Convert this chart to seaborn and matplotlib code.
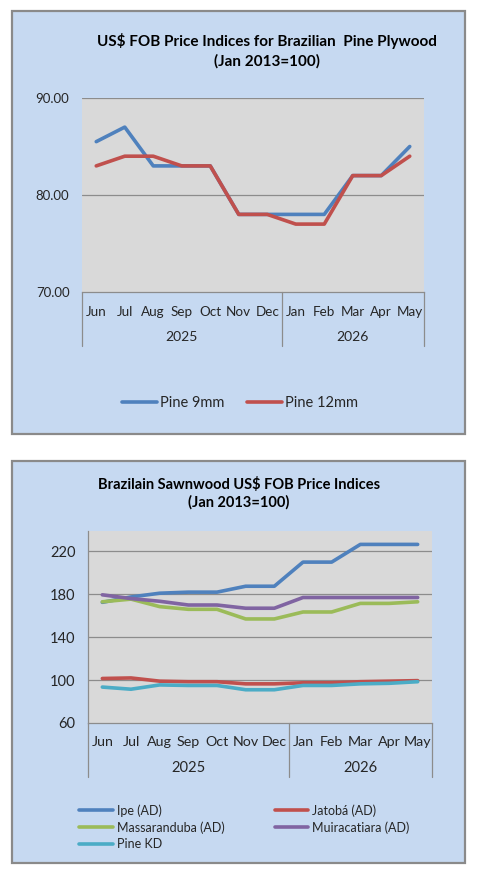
import pandas as pd
import matplotlib.pyplot as plt
import seaborn as sns
from matplotlib.patches import Rectangle

sns.set_style('white')
plt.rcParams['font.family'] = ['Lato', 'DejaVu Sans']

W, H = 481, 880

months = ['Jun', 'Jul', 'Aug', 'Sep', 'Oct', 'Nov', 'Dec',
          'Jan', 'Feb', 'Mar', 'Apr', 'May']
years = ['2025', '2026']
year_spans = [(0, 6), (7, 11)]

# plywood indices
pine_9mm = [85.5, 87, 83, 83, 83, 78, 78, 78, 78, 82, 82, 85]
pine_12mm = [83, 84, 84, 83, 83, 78, 78, 77, 77, 82, 82, 84]

# sawnwood indices
ipe = [172.5, 177.5, 181, 182, 182, 187.5, 187.5, 210, 210, 226.5, 226.5, 226.5]
jatoba = [101.5, 102, 99, 98.5, 98.5, 96.5, 96.5, 97.5, 97.5, 98.5, 99, 99.5]
massaranduba = [173, 175.5, 168.5, 166, 166, 157, 157, 163.5, 163.5, 171.5, 171.5, 173]
muiracatiara = [179.5, 176, 173.5, 170, 170, 167, 167, 177, 177, 177, 177, 177]
pine_kd = [93.5, 91.5, 95.5, 95, 95, 91, 91, 95, 95, 96.5, 97, 98.5]

BOX_FILL = '#C6D9F1'
PLOT_FILL = '#D9D9D9'
GRID = '#8C8C8C'
TXT = '#262626'


def px_rect(x0, y0, x1, y1):
    # pixel box (from top-left) -> figure fraction rect
    return [x0 / W, 1 - y1 / H, (x1 - x0) / W, (y1 - y0) / H]


def long_form(series):
    rows = []
    for name, vals in series.items():
        for i, v in enumerate(vals):
            rows.append({'pos': i, 'value': v, 'series': name})
    return pd.DataFrame(rows)


def style_axis(ax, ylim, yticks, fmt, show_left, tick_fs, month_fs, month_pad, drop):
    ax.set_facecolor(PLOT_FILL)
    ax.set_xlim(-0.5, 11.5)
    ax.set_ylim(*ylim)
    ax.set_yticks(yticks)
    ax.set_yticklabels([fmt.format(t) for t in yticks])
    ax.set_xticks(range(len(months)))
    ax.set_xticklabels(months)
    ax.tick_params(axis='x', length=0, pad=month_pad, labelsize=month_fs, colors=TXT)
    ax.tick_params(axis='y', length=0, pad=9, labelsize=tick_fs, colors=TXT)
    ax.set_xlabel('')
    ax.set_ylabel('')
    ax.grid(False)
    for t in yticks[1:]:
        ax.axhline(t, color=GRID, lw=0.9, zorder=1)
    for s in ['top', 'right']:
        ax.spines[s].set_visible(False)
    ax.spines['left'].set_visible(show_left)
    ax.spines['left'].set_color(GRID)
    ax.spines['bottom'].set_color(GRID)
    ax.spines['left'].set_linewidth(0.9)
    ax.spines['bottom'].set_linewidth(0.9)
    # multi-level category axis
    for xs in [-0.5, 6.5, 11.5]:
        ax.plot([xs, xs], [0, -drop], transform=ax.get_xaxis_transform(),
                color=GRID, lw=0.9, clip_on=False)
    for yr, (a, b) in zip(years, year_spans):
        ax.text((a + b) / 2, -drop * 0.83, yr, transform=ax.get_xaxis_transform(),
                ha='center', va='center', fontsize=month_fs + 0.3, color=TXT)


fig = plt.figure(figsize=(W / 100, H / 100), dpi=100)

# chart boxes
for box in [(12, 11, 465, 434), (12, 461, 465, 863)]:
    r = px_rect(*box)
    fig.patches.append(Rectangle((r[0], r[1]), r[2], r[3], transform=fig.transFigure,
                                 facecolor=BOX_FILL, edgecolor='#8A8A8A', lw=1.6, zorder=-5))

# ---- top chart: plywood ----
ax1 = fig.add_axes(px_rect(82, 98, 424, 292))
ply = long_form({'Pine 9mm': pine_9mm, 'Pine 12mm': pine_12mm})
sns.lineplot(data=ply, x='pos', y='value', hue='series', sort=False,
             palette=['#4F81BD', '#C0504D'], lw=2.6, legend=False, ax=ax1, zorder=3)
style_axis(ax1, (70, 90), [70, 80, 90], '{:.2f}', False, 9.5, 9.7, 10, 54 / 194)

fig.text(267 / W, 1 - 51 / H, 'US$ FOB Price Indices for Brazilian  Pine Plywood\n(Jan 2013=100)',
         ha='center', va='center', fontsize=11, fontweight='bold', color='black',
         linespacing=1.4)

fig.legend(ax1.get_lines()[:2], ['Pine 9mm', 'Pine 12mm'], loc='center',
           bbox_to_anchor=(240 / W, 1 - 403 / H), ncol=2, frameon=False,
           fontsize=10.5, handlelength=2.4, handletextpad=0.2, columnspacing=1.6,
           labelcolor=TXT)

# ---- bottom chart: sawnwood ----
ax2 = fig.add_axes(px_rect(88, 531, 432, 723))
saw_names = ['Ipe (AD)', 'Jatobá (AD)', 'Massaranduba (AD)', 'Muiracatiara (AD)', 'Pine KD']
saw_colors = ['#4F81BD', '#C0504D', '#9BBB59', '#8064A2', '#4BACC6']
saw = long_form(dict(zip(saw_names, [ipe, jatoba, massaranduba, muiracatiara, pine_kd])))
sns.lineplot(data=saw, x='pos', y='value', hue='series', sort=False,
             palette=saw_colors, lw=2.6, legend=False, ax=ax2, zorder=3)
style_axis(ax2, (60, 239), [60, 100, 140, 180, 220], '{:.0f}', True, 10.5, 10.3, 9, 54 / 192)

fig.text(239 / W, 1 - 493.5 / H, 'Brazilain Sawnwood US$ FOB Price Indices\n(Jan 2013=100)',
         ha='center', va='center', fontsize=10.5, fontweight='bold', color='black',
         linespacing=1.3)

lines2 = ax2.get_lines()[:5]
order = [0, 2, 4, 1, 3]
fig.legend([lines2[i] for i in order], [saw_names[i] for i in order], loc='upper left',
           bbox_to_anchor=(68 / W, 1 - 793 / H), ncol=2, frameon=False,
           fontsize=9, handlelength=2.7, handletextpad=0.3, columnspacing=4.0,
           labelspacing=0.35, labelcolor=TXT)

fig.savefig('out.png', dpi=100)
